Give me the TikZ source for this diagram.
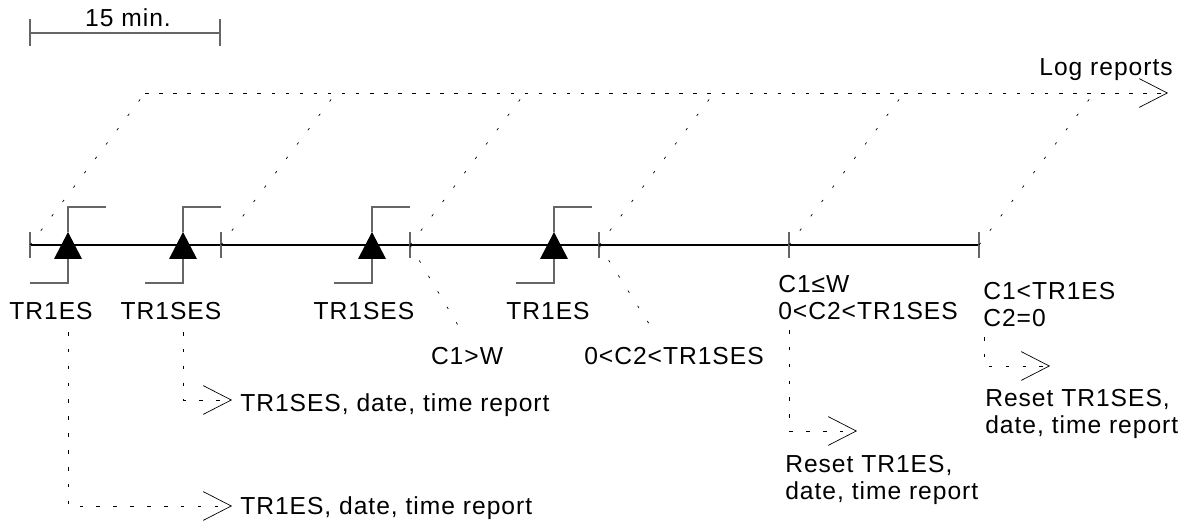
\documentclass[tikz,border=0pt]{standalone}
\usepackage{fontspec}
\setmainfont{Liberation Sans}[LetterSpace=4]
\usepackage{tikz}
\usetikzlibrary{
    arrows.meta,
    calc,
    positioning
}
\tikzset{
    lbl/.style={font=\fontsize{17.5}{19.2}\selectfont, inner sep=0pt, align=left},
    tmark/.style={draw=black!60, line width=1pt},
    stem/.style={draw=black!60, line width=0.8pt},
    logline/.style={line width=0.5pt, dash pattern=on 2.5pt off 7.5pt},
    slant/.style={line width=0.5pt, dash pattern=on 1.8pt off 11pt},
    report/.style={line width=0.5pt, dash pattern=on 2.5pt off 9.5pt},
    barb/.style={-{Straight Barb[length=0.7cm, width=0.72cm]}}
}

\begin{document}
\begin{tikzpicture}[x=0.025cm, y=0.025cm]
                        \useasboundingbox (0,0) rectangle (1183,-524);
                        % scale bar
                        \coordinate (sa) at (30,-33);
                        \coordinate (sb) at (220,-33);
                        \draw[line width=0.8pt, black!60] (sa) -- (sb);
                        \draw[tmark] (30,-19) -- (30,-46);
                        \draw[tmark] (220,-19) -- (220,-46);
                        \node[lbl, anchor=base] (span) at (128,-27) {15 min.};
                        % time axis
                        \coordinate (t1) at (30,-245);
                        \coordinate (t2) at (221,-245);
                        \coordinate (t3) at (410,-245);
                        \coordinate (t4) at (599,-245);
                        \coordinate (t5) at (789,-245);
                        \coordinate (t6) at (979,-245);
                        \draw[line width=0.9pt] (t1) -- (t6);
                        \draw[tmark]
                        ($(t1)+(0,13)$) -- ($(t1)+(0,-13)$)
                        ($(t2)+(0,13)$) -- ($(t2)+(0,-13)$)
                        ($(t3)+(0,13)$) -- ($(t3)+(0,-13)$)
                        ($(t4)+(0,13)$) -- ($(t4)+(0,-13)$)
                        ($(t5)+(0,13)$) -- ($(t5)+(0,-13)$)
                        ($(t6)+(0,13)$) -- ($(t6)+(0,-13)$);
                        % log reports
                        \coordinate (log-start) at (145,-93);
                        \coordinate (log-tip) at (1168,-93);
                        \draw[logline, barb] (log-start) -- (log-tip);
                        \node[lbl, anchor=base east] (logs) at (1173,-76) {Log reports};
                        \draw[slant]
                        (t1) -- ($(t1)+(115,152)$)
                        (t2) -- ($(t2)+(115,152)$)
                        (t3) -- ($(t3)+(115,152)$)
                        (t4) -- ($(t4)+(115,152)$)
                        (t5) -- ($(t5)+(115,152)$)
                        (t6) -- ($(t6)+(115,152)$);
                        % triggers
                        \coordinate (g1) at (68,-245);
                        \coordinate (g2) at (183,-245);
                        \coordinate (g3) at (372,-245);
                        \coordinate (g4) at (554,-245);
                        \fill (g1) ++(0,13) -- ++(-14,-27) -- ++(28,0) -- cycle;
                        \fill (g2) ++(0,13) -- ++(-14,-27) -- ++(28,0) -- cycle;
                        \fill (g3) ++(0,13) -- ++(-14,-27) -- ++(28,0) -- cycle;
                        \fill (g4) ++(0,13) -- ++(-14,-27) -- ++(28,0) -- cycle;
                        \draw[stem]
                        ($(g1)+(0,13)$) -- ++(0,25) -- ++(38,0)
                        ($(g1)+(0,-14)$) -- ++(0,-24) -- ++(-38,0)
                        ($(g2)+(0,13)$) -- ++(0,25) -- ++(38,0)
                        ($(g2)+(0,-14)$) -- ++(0,-24) -- ++(-38,0)
                        ($(g3)+(0,13)$) -- ++(0,25) -- ++(38,0)
                        ($(g3)+(0,-14)$) -- ++(0,-24) -- ++(-38,0)
                        ($(g4)+(0,13)$) -- ++(0,25) -- ++(38,0)
                        ($(g4)+(0,-14)$) -- ++(0,-24) -- ++(-38,0);
                        \node[lbl, anchor=base] (es-a) at (51,-320) {TR1ES};
                        \node[lbl, anchor=base] (ses-a) at (171,-320) {TR1SES};
                        \node[lbl, anchor=base] (ses-b) at (364,-320) {TR1SES};
                        \node[lbl, anchor=base] (es-b) at (548,-320) {TR1ES};
                        % checks
                        \coordinate (w-end) at (462,-332);
                        \coordinate (c2-end) at (653,-330);
                        \draw[slant] (t3) -- (w-end);
                        \draw[slant] (t4) -- (c2-end);
                        \node[lbl, anchor=base] (c1w) at (467,-364) {C1>W};
                        \node[lbl, anchor=base] (c2a) at (674,-364) {0<C2<TR1SES};
                        % (base of a two-line node = base of its last line)
                        \node[lbl, anchor=base west] (c1le) at (778,-319) {C1≤W\\0<C2<TR1SES};
                        \node[lbl, anchor=base west] (c1es) at (983,-326) {C1<TR1ES\\C2=0};
                        % reports
                        \coordinate (ses-drop) at (183,-332);
                        \coordinate (ses-tip) at (232,-400);
                        \coordinate (es-drop) at (68,-332);
                        \coordinate (es-tip) at (232,-506);
                        \coordinate (rst-es-drop) at (789,-330);
                        \coordinate (rst-es-tip) at (857,-431);
                        \coordinate (rst-ses-drop) at (984,-337);
                        \coordinate (rst-ses-tip) at (1050,-366);
                        \draw[report, barb] (ses-drop) |- (ses-tip);
                        \draw[report, barb] (es-drop) |- (es-tip);
                        \draw[report, barb] (rst-es-drop) |- (rst-es-tip);
                        \draw[report, barb] (rst-ses-drop) |- (rst-ses-tip);
                        \node[lbl, anchor=base west] (ses-rep) at (240,-411) {TR1SES, date, time report};
                        \node[lbl, anchor=base west] (es-rep) at (240,-514) {TR1ES, date, time report};
                        \node[lbl, anchor=base west] (rst-es) at (785,-499) {Reset TR1ES,\\date, time report};
                        \node[lbl, anchor=base west] (rst-ses) at (985,-433) {Reset TR1SES,\\date, time report};
                    \end{tikzpicture}
\end{document}
